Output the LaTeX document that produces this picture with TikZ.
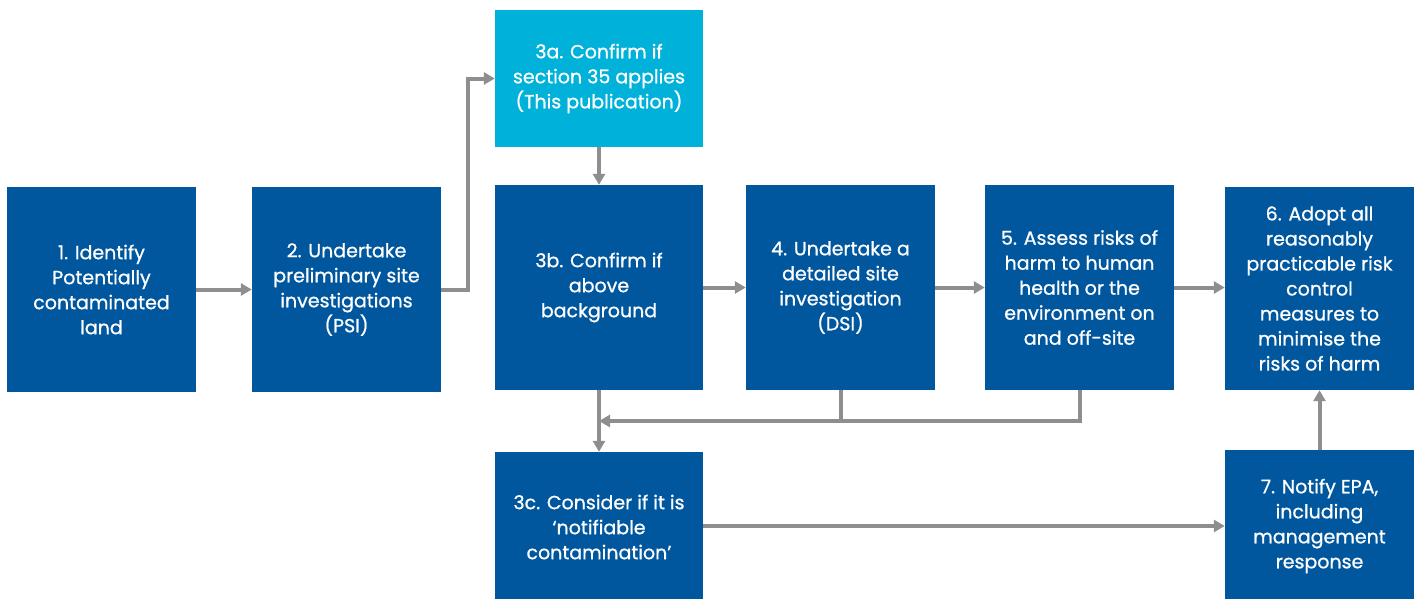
\documentclass[tikz,border=0pt]{standalone}
\usepackage{fontspec}
\setmainfont{Poppins}[FakeBold=0.8]
\usetikzlibrary{arrows.meta}
\definecolor{dblue}{HTML}{00579E}
\definecolor{lblue}{HTML}{00B2D9}
\definecolor{agray}{HTML}{8E8E8E}
\begin{document}
\begin{tikzpicture}[x=1pt,y=-1pt,
  box/.style={fill=dblue,text=white,inner sep=0pt,align=center,
    font=\fontsize{19}{25}\selectfont},
  lbox/.style={box,fill=lblue},
  conn/.style={draw=agray,line width=4pt},
  arr/.style={conn,-{Triangle[length=11pt,width=12pt]}}]
\useasboundingbox (0,0) rectangle (1419,598);
\begin{scope}
\clip (0,0) rectangle (1419,598);
\node[box,minimum width=189pt,minimum height=205pt] (n1) at (101.5,289.5) {1. Identify\\Potentially\\contaminated\\land};
\node[box,minimum width=189pt,minimum height=205pt] (n2) at (346.5,289.5) {2. Undertake\\preliminary site\\investigations\\(PSI)};
\node[lbox,minimum width=208pt,minimum height=137pt] (n3a) at (599,78.5) {3a. Confirm if\\section 35 applies\\(This publication)};
\node[box,minimum width=208pt,minimum height=205pt] (n3b) at (599,287.5) {3b. Confirm if\\above\\background};
\node[box,minimum width=189pt,minimum height=205pt] (n4) at (840.5,287.5) {4. Undertake a\\detailed site\\investigation\\(DSI)};
\node[box,minimum width=189pt,minimum height=205pt] (n5) at (1079.5,287.5) {5. Assess risks of\\harm to human\\health or the\\environment on\\and off-site};
\node[box,minimum width=189pt,minimum height=203pt] (n6) at (1319.5,288.5) {6. Adopt all\\reasonably\\practicable risk\\control\\measures to\\minimise the\\risks of harm};
\node[box,minimum width=208pt,minimum height=150pt] (n3c) at (599,527) {3c. Consider if it is\\‘notifiable\\contamination’};
\node[box,minimum width=189pt,minimum height=152pt] (n7) at (1319.5,526) {7. Notify EPA,\\including\\management\\response};
\end{scope}
\coordinate (j) at (599,421);
\draw[arr] (n1) -- (n2);
\draw[arr] (n2.east) -- ++(27,0) |- (n3a.west);
\draw[arr] (n3a.south) -- (n3b.north);
\draw[arr] (n3b) -- (n4);
\draw[arr] (n4) -- (n5);
\draw[arr] (n5.east) -- (n5.east -| n6.west);
\draw[arr] (n3b.south) -- (n3c.north);
\draw[conn] (n4.south) -- (n4.south |- j);
\draw[arr] (n5.south) |- (j);
\draw[arr] (n3c.east |- n7.west) -- (n7.west);
\draw[arr] (n7.north) -- (n6.south);
\end{tikzpicture}
\end{document}
